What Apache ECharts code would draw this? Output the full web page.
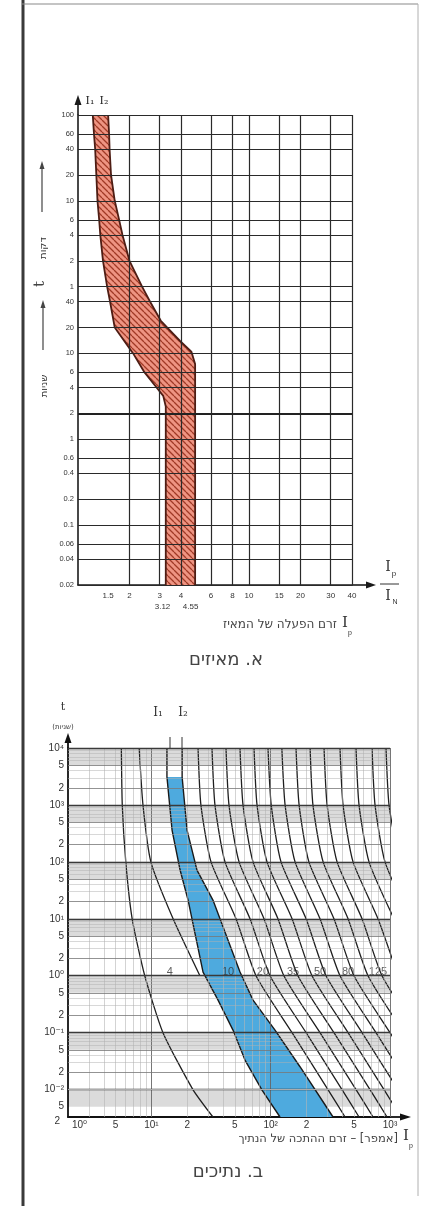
<!DOCTYPE html>
<html>
<head>
<meta charset="utf-8">
<script src="https://cdn.jsdelivr.net/npm/echarts@6/dist/echarts.min.js"></script>
<style>
  html, body { margin: 0; padding: 0; background: #fff; }
  #chart { width: 422px; height: 1206px; }
</style>
</head>
<body>
<div id="chart"></div>
<script>
// 上图：מאיזים（断路器）I/In - t
const breakerXTicks = [1.5, 2, 3, 4, 6, 8, 10, 15, 20, 30, 40];
const breakerXMarks = [3.12, 4.55];
const breakerXGrid = [2, 3, 4, 6, 8, 10, 15, 20, 30, 40];
const breakerYValues = [6000, 3600, 2400, 1200, 600, 360, 240, 120, 60, 40, 20, 10, 6, 4, 2, 1, 0.6, 0.4, 0.2, 0.1, 0.06, 0.04, 0.02];
const breakerYLabels = ['100', '60', '40', '20', '10', '6', '4', '2', '1', '40', '20', '10', '6', '4', '2', '1', '0.6', '0.4', '0.2', '0.1', '0.06', '0.04', '0.02'];
const breakerI1 = [[1.22, 6000], [1.24, 3600], [1.26, 2400], [1.28, 1200], [1.30, 600], [1.33, 360], [1.35, 240], [1.40, 120], [1.48, 60], [1.54, 40], [1.64, 20], [2.1, 10], [2.45, 6], [2.88, 4], [3.15, 3.2], [3.26, 2.4], [3.26, 0.02]];
const breakerI2 = [[1.50, 6000], [1.52, 3600], [1.53, 2400], [1.56, 1200], [1.64, 600], [1.74, 360], [1.82, 240], [2.0, 120], [2.37, 60], [2.64, 40], [3.05, 24], [3.95, 14], [4.6, 10.5], [4.84, 7.5], [4.84, 0.02]];

// 下图：נתיכים（熔断器）I - t
const fuseXValues = [2.5, 5, 10, 20, 50, 100, 200, 500, 1000];
const fuseXLabels = ['10⁰', '5', '10¹', '2', '5', '10²', '2', '5', '10³'];
const fuseXGrid = [3, 4, 5, 6, 7, 8, 9, 10, 20, 30, 40, 50, 60, 70, 80, 90, 100, 200, 300, 400, 500, 600, 700, 800, 900, 1000];
const fuseYValues = [10000, 5000, 2000, 1000, 500, 200, 100, 50, 20, 10, 5, 2, 1, 0.5, 0.2, 0.1, 0.05, 0.02, 0.01, 0.005];
const fuseYLabels = ['10⁴', '5', '2', '10³', '5', '2', '10²', '5', '2', '10¹', '5', '2', '10⁰', '5', '2', '10⁻¹', '5', '2', '10⁻²', '5'];
const fuseYCorner = [0.0034];
const fuseYCornerLabel = ['2'];
const fuseShadeBands = [[5000, 10000], [500, 1000], [50, 100], [5, 10], [0.5, 1], [0.05, 0.1], [0.005, 0.01]];
const fuseI1 = [[13.5, 10000], [13.5, 3090], [14.9, 362], [17.4, 71.8], [20.3, 21.3], [27.1, 1.16], [36.2, 0.373], [48.3, 0.111], [60.9, 0.033], [84.6, 0.0098], [119.7, 0.0033]];
const fuseI2 = [[18.1, 10000], [18.1, 3090], [19.9, 362], [24.1, 71.8], [32.8, 21.3], [55.3, 1.16], [71.1, 0.373], [108.7, 0.111], [176, 0.0252], [333, 0.0033]];
const fuseCurves = [
  [[5.6, 10000], [5.7, 1000], [6.1, 100], [6.9, 10], [8.8, 1], [12.5, 0.1], [22.3, 0.01], [32.8, 0.0033]],
  [[7.9, 10000], [8.5, 1000], [9.9, 100], [15.2, 10], [25.5, 1]],
  [[24.6, 10000], [26, 1000], [31.6, 100], [51.2, 10], [75.3, 1], [151, 0.1], [302, 0.01], [420, 0.0033]],
  [[32.2, 10000], [34.1, 1000], [41.4, 100], [67.1, 10], [98.7, 1], [198, 0.1], [396, 0.01], [550, 0.0033]],
  [[42.2, 10000], [44.7, 1000], [54.3, 100], [87.9, 10], [129, 1], [259, 0.1], [519, 0.01], [721, 0.0033]],
  [[55.3, 10000], [58.6, 1000], [71.1, 100], [115, 10], [169, 1], [339, 0.1], [680, 0.01], [944, 0.0033]],
  [[72.5, 10000], [76.8, 1000], [93.1, 100], [151, 10], [222, 1], [445, 0.1], [891, 0.01], [1237, 0.0033]],
  [[94.9, 10000], [101, 1000], [122, 100], [198, 10], [291, 1], [583, 0.1], [1167, 0.01]],
  [[124, 10000], [132, 1000], [160, 100], [259, 10], [381, 1], [763, 0.1], [1529, 0.01]],
  [[163, 10000], [173, 1000], [209, 100], [339, 10], [499, 1], [1000, 0.1], [2004, 0.01]],
  [[214, 10000], [226, 1000], [275, 100], [445, 10], [654, 1], [1310, 0.1]],
  [[280, 10000], [297, 1000], [360, 100], [583, 10], [857, 1], [1717, 0.1]],
  [[381, 10000], [404, 1000], [490, 100], [793, 10], [1167, 1]],
  [[519, 10000], [550, 1000], [667, 100], [1080, 10]],
  [[707, 10000], [749, 1000], [908, 100], [1471, 10]],
  [[926, 10000], [981, 1000], [1190, 100]]
];
const fuseRatings = ['4', '10', '20', '35', '50', '80', '125'];
const fuseRatingPos = [[14.3, 1.15], [43.9, 1.15], [86, 1.15], [154, 1.15], [259, 1.15], [445, 1.15], [793, 1.15]];

const RLM = '\u200F';
const HEB = "'DejaVu Sans', 'Liberation Sans', sans-serif";
const NUM = "'Liberation Sans', 'DejaVu Sans', sans-serif";

// 按数值查标签
function pick(values, labels) {
  return function (v) {
    const i = values.findIndex(x => Math.abs(x - v) <= x * 1e-6);
    return i < 0 ? '' : labels[i];
  };
}

// 斜线填充图案
function hatch(bg, fg, size) {
  const c = document.createElement('canvas');
  c.width = size;
  c.height = size;
  const ctx = c.getContext('2d');
  ctx.fillStyle = bg;
  ctx.fillRect(0, 0, size, size);
  ctx.strokeStyle = fg;
  ctx.lineWidth = 1.3;
  ctx.beginPath();
  [-size, 0, size].forEach(k => {
    ctx.moveTo(k, 0);
    ctx.lineTo(k + size, size);
  });
  ctx.stroke();
  return c;
}

function bandItem(edgeA, edgeB, fill, stroke) {
  return function (params, api) {
    const pts = edgeA.concat(edgeB.slice().reverse()).map(p => api.coord(p));
    return {
      type: 'polygon',
      shape: { points: pts },
      style: { fill: fill, stroke: stroke, lineWidth: 0 }
    };
  };
}

const breakerLabelVals = breakerXTicks.concat(breakerXMarks);
const breakerLabelTexts = breakerXTicks.map(String).concat(breakerXMarks.map(v => '\n' + v));

const fuseYLines = [];
fuseYValues.forEach(v => {
  const m = Math.round(v / Math.pow(10, Math.floor(Math.log10(v) + 1e-9)));
  fuseYLines.push({
    yAxis: v,
    lineStyle: m === 1 ? { color: '#3a3a3a', width: 1.3 } : { color: '#777', width: 0.8 }
  });
});
[-3, -2, -1, 0, 1, 2, 3].forEach(e => {
  [3, 4, 6, 7, 8, 9].forEach(m => {
    const v = m * Math.pow(10, e);
    if (v > 0.0034 && v < 10000) fuseYLines.push({ yAxis: v, lineStyle: { color: '#b0b0b0', width: 0.5 } });
  });
});
const fuseXLines = fuseXGrid.map(v => ({
  xAxis: v,
  lineStyle: [10, 100, 1000].indexOf(v) >= 0 ? { color: '#666', width: 0.9 } : { color: '#b5b5b5', width: 0.6 }
}));

const chart = echarts.init(document.getElementById('chart'), null, { renderer: 'canvas' });

const option = {
  backgroundColor: '#ffffff',
  animation: false,
  textStyle: { fontFamily: NUM },
  grid: [
    { left: 78, top: 115, width: 274, height: 470, outerBoundsMode: 'none' },
    { left: 68, top: 748, width: 322, height: 369, outerBoundsMode: 'none' }
  ],
  xAxis: [
    {
      gridIndex: 0, type: 'log', logBase: 10, min: 1, max: 40,
      axisLine: { show: true, onZero: false, lineStyle: { color: '#1a1a1a', width: 1.6 } },
      axisTick: { show: false },
      splitLine: { show: false },
      axisLabel: {
        customValues: breakerLabelVals,
        formatter: pick(breakerLabelVals, breakerLabelTexts),
        showMinLabel: true, showMaxLabel: true,
        fontSize: 8, color: '#333', margin: 5, lineHeight: 11
      }
    },
    {
      gridIndex: 1, type: 'log', logBase: 10, min: 2, max: 1000,
      axisLine: { show: true, onZero: false, lineStyle: { color: '#111', width: 1.8 } },
      axisTick: { show: false },
      splitLine: { show: false },
      axisLabel: {
        customValues: fuseXValues,
        formatter: pick(fuseXValues, fuseXLabels),
        showMinLabel: true, showMaxLabel: true,
        fontSize: 10, color: '#333', margin: 3
      }
    }
  ],
  yAxis: [
    {
      gridIndex: 0, type: 'log', logBase: 10, min: 0.02, max: 6000,
      axisLine: { show: true, onZero: false, lineStyle: { color: '#1a1a1a', width: 1.6 } },
      axisTick: { show: false },
      splitLine: { show: false },
      axisLabel: {
        customValues: breakerYValues,
        formatter: pick(breakerYValues, breakerYLabels),
        showMinLabel: true, showMaxLabel: true,
        fontSize: 7.5, color: '#333', margin: 4
      }
    },
    {
      gridIndex: 1, type: 'log', logBase: 10, min: 0.0033, max: 10000,
      axisLine: { show: true, onZero: false, lineStyle: { color: '#111', width: 1.8 } },
      axisTick: { show: false },
      splitLine: { show: false },
      axisLabel: {
        customValues: fuseYValues,
        formatter: pick(fuseYValues, fuseYLabels),
        showMinLabel: true, showMaxLabel: true,
        fontSize: 10, color: '#333', margin: 4
      }
    },
    // 左下角的 "2"
    {
      gridIndex: 1, type: 'log', logBase: 10, min: 0.0033, max: 10000, position: 'left', offset: 0,
      axisLine: { show: false },
      axisTick: { show: false },
      splitLine: { show: false },
      axisLabel: {
        customValues: fuseYCorner,
        formatter: pick(fuseYCorner, fuseYCornerLabel),
        showMinLabel: true,
        verticalAlign: 'top',
        fontSize: 10, color: '#333', margin: 8
      }
    }
  ],
  series: [
    // 上图网格
    {
      type: 'line', xAxisIndex: 0, yAxisIndex: 0, data: [], silent: true, z: 1,
      markLine: {
        silent: true, symbol: 'none', animation: false,
        label: { show: false },
        lineStyle: { color: '#2a2a2a', width: 1.2, type: 'solid' },
        data: breakerXGrid.map(v => ({ xAxis: v })).concat(
          breakerYValues.map(v => (v === 2 ? { yAxis: v, lineStyle: { width: 2.2, color: '#222', type: 'solid' } } : { yAxis: v })))
      }
    },
    // 上图阴影带
    {
      type: 'custom', xAxisIndex: 0, yAxisIndex: 0, data: [breakerI1[0]], z: 2, silent: true,
      renderItem: bandItem(breakerI1, breakerI2, { image: hatch('#ee9482', '#a03a26', 6), repeat: 'repeat' }, 'none')
    },
    {
      type: 'line', xAxisIndex: 0, yAxisIndex: 0, data: breakerI1, symbol: 'none', silent: true, z: 3,
      lineStyle: { color: '#4e1d14', width: 1.8 }
    },
    {
      type: 'line', xAxisIndex: 0, yAxisIndex: 0, data: breakerI2, symbol: 'none', silent: true, z: 3,
      lineStyle: { color: '#4e1d14', width: 1.8 }
    },
    // 下图网格与灰色条
    {
      type: 'line', xAxisIndex: 1, yAxisIndex: 1, data: [], silent: true, z: 1,
      markArea: {
        silent: true,
        itemStyle: { color: 'rgba(0,0,0,0.14)' },
        data: fuseShadeBands.map(b => [{ yAxis: b[0] }, { yAxis: b[1] }])
      },
      markLine: {
        silent: true, symbol: 'none', animation: false,
        label: { show: false },
        lineStyle: { type: 'solid' },
        data: fuseXLines.concat(fuseYLines)
      }
    },
    // 下图 10A 带
    {
      type: 'custom', xAxisIndex: 1, yAxisIndex: 1, data: [fuseI1[1]], z: 2, silent: true,
      renderItem: bandItem(fuseI1.slice(1), fuseI2.slice(1), '#4eaade', 'none')
    },
    {
      type: 'line', xAxisIndex: 1, yAxisIndex: 1, data: fuseI1, symbol: 'none', silent: true, z: 3,
      lineStyle: { color: '#1a1a1a', width: 1.4 }
    },
    {
      type: 'line', xAxisIndex: 1, yAxisIndex: 1, data: fuseI2, symbol: 'none', silent: true, z: 3,
      lineStyle: { color: '#1a1a1a', width: 1.4 }
    }
  ].concat(fuseCurves.map(c => ({
    type: 'line', xAxisIndex: 1, yAxisIndex: 1, data: c, symbol: 'none', silent: true, z: 3,
    smooth: 0.2,
    lineStyle: { color: '#1f1f1f', width: 1.3 }
  }))).concat([
    {
      type: 'scatter', xAxisIndex: 1, yAxisIndex: 1, z: 4, silent: true,
      symbolSize: 1, itemStyle: { color: 'rgba(0,0,0,0)' },
      data: fuseRatings.map((r, i) => ({ name: r, value: fuseRatingPos[i] })),
      label: { show: true, position: 'inside', formatter: '{b}', fontSize: 11, color: '#333' }
    }
  ]),
  graphic: [
    // 外框
    { type: 'line', shape: { x1: 23, y1: 0, x2: 23, y2: 1206 }, style: { stroke: '#3a3a3a', lineWidth: 3 } },
    { type: 'line', shape: { x1: 22, y1: 4, x2: 418, y2: 4 }, style: { stroke: '#8a8a8a', lineWidth: 1.2 } },
    { type: 'line', shape: { x1: 418, y1: 4, x2: 418, y2: 1196 }, style: { stroke: '#b0b0b0', lineWidth: 1 } },

    // 上图坐标箭头
    { type: 'line', shape: { x1: 78, y1: 115, x2: 78, y2: 102 }, style: { stroke: '#1a1a1a', lineWidth: 1.6 } },
    { type: 'polygon', shape: { points: [[78, 95], [74.5, 105], [81.5, 105]] }, style: { fill: '#1a1a1a' } },
    { type: 'line', shape: { x1: 352, y1: 585, x2: 368, y2: 585 }, style: { stroke: '#1a1a1a', lineWidth: 1.6 } },
    { type: 'polygon', shape: { points: [[376, 585], [366, 581.5], [366, 588.5]] }, style: { fill: '#1a1a1a' } },
    { type: 'text', x: 90, y: 101, style: { text: 'I₁', fontSize: 11, fontFamily: 'DejaVu Serif', fill: '#222', align: 'center', verticalAlign: 'middle' } },
    { type: 'text', x: 104, y: 101, style: { text: 'I₂', fontSize: 11, fontFamily: 'DejaVu Serif', fill: '#222', align: 'center', verticalAlign: 'middle' } },

    // 上图纵轴标题
    { type: 'line', shape: { x1: 42, y1: 212, x2: 42, y2: 168 }, style: { stroke: '#444', lineWidth: 1.2 } },
    { type: 'polygon', shape: { points: [[42, 161], [39.5, 169], [44.5, 169]] }, style: { fill: '#444' } },
    { type: 'text', x: 43, y: 248, rotation: Math.PI / 2, style: { text: RLM + 'דקות' + RLM, fontSize: 10, fontFamily: HEB, fill: '#333', align: 'center', verticalAlign: 'middle' } },
    { type: 'text', x: 40, y: 284, rotation: Math.PI / 2, style: { text: 't', fontSize: 15, fontFamily: 'DejaVu Serif', fill: '#444', align: 'center', verticalAlign: 'middle' } },
    { type: 'line', shape: { x1: 43, y1: 350, x2: 43, y2: 307 }, style: { stroke: '#444', lineWidth: 1.2 } },
    { type: 'polygon', shape: { points: [[43, 300], [40.5, 308], [45.5, 308]] }, style: { fill: '#444' } },
    { type: 'text', x: 44, y: 386, rotation: Math.PI / 2, style: { text: RLM + 'שניות' + RLM, fontSize: 10, fontFamily: HEB, fill: '#333', align: 'center', verticalAlign: 'middle' } },

    // 上图横轴标题
    { type: 'text', x: 388, y: 567, style: { text: 'I', fontSize: 14, fontFamily: 'DejaVu Serif', fill: '#333', align: 'center', verticalAlign: 'middle' } },
    { type: 'text', x: 394, y: 574, style: { text: 'p', fontSize: 8, fontFamily: NUM, fill: '#333', align: 'center', verticalAlign: 'middle' } },
    { type: 'line', shape: { x1: 380, y1: 584, x2: 399, y2: 584 }, style: { stroke: '#333', lineWidth: 1 } },
    { type: 'text', x: 388, y: 596, style: { text: 'I', fontSize: 14, fontFamily: 'DejaVu Serif', fill: '#333', align: 'center', verticalAlign: 'middle' } },
    { type: 'text', x: 395, y: 602, style: { text: 'N', fontSize: 7, fontFamily: NUM, fill: '#333', align: 'center', verticalAlign: 'middle' } },
    { type: 'text', x: 337, y: 625, style: { text: RLM + 'זרם הפעלה של המאיז' + RLM, fontSize: 12, fontFamily: HEB, fill: '#444', align: 'right', verticalAlign: 'middle' } },
    { type: 'text', x: 345, y: 623, style: { text: 'I', fontSize: 15, fontFamily: 'DejaVu Serif', fill: '#333', align: 'center', verticalAlign: 'middle' } },
    { type: 'text', x: 350, y: 633, style: { text: 'p', fontSize: 7, fontFamily: NUM, fill: '#333', align: 'center', verticalAlign: 'middle' } },
    { type: 'text', x: 226, y: 660, style: { text: RLM + 'א. מאיזים' + RLM, fontSize: 18, fontFamily: HEB, fill: '#444', align: 'center', verticalAlign: 'middle' } },

    // 下图坐标箭头
    { type: 'line', shape: { x1: 68, y1: 748, x2: 68, y2: 740 }, style: { stroke: '#111', lineWidth: 1.8 } },
    { type: 'polygon', shape: { points: [[68, 733], [64.5, 743], [71.5, 743]] }, style: { fill: '#111' } },
    { type: 'line', shape: { x1: 390, y1: 1117, x2: 402, y2: 1117 }, style: { stroke: '#111', lineWidth: 1.8 } },
    { type: 'polygon', shape: { points: [[411, 1117], [400, 1113.5], [400, 1120.5]] }, style: { fill: '#111' } },
    { type: 'text', x: 63, y: 707, style: { text: 't', fontSize: 11, fontFamily: 'DejaVu Serif', fill: '#333', align: 'center', verticalAlign: 'middle' } },
    { type: 'text', x: 63, y: 727, style: { text: RLM + '(שניות)' + RLM, fontSize: 7, fontFamily: HEB, fill: '#333', align: 'center', verticalAlign: 'middle' } },
    { type: 'text', x: 158, y: 713, style: { text: 'I₁', fontSize: 12, fontFamily: 'DejaVu Serif', fill: '#333', align: 'center', verticalAlign: 'middle' } },
    { type: 'text', x: 183, y: 713, style: { text: 'I₂', fontSize: 12, fontFamily: 'DejaVu Serif', fill: '#333', align: 'center', verticalAlign: 'middle' } },
    { type: 'line', shape: { x1: 170, y1: 737, x2: 170, y2: 748 }, style: { stroke: '#333', lineWidth: 1 } },
    { type: 'line', shape: { x1: 182, y1: 737, x2: 182, y2: 748 }, style: { stroke: '#333', lineWidth: 1 } },

    // 下图横轴标题
    { type: 'text', x: 398, y: 1139, style: { text: RLM + '[אמפר] – זרם ההתכה של הנתיך' + RLM, fontSize: 11.5, fontFamily: HEB, fill: '#444', align: 'right', verticalAlign: 'middle' } },
    { type: 'text', x: 406, y: 1136, style: { text: 'I', fontSize: 15, fontFamily: 'DejaVu Serif', fill: '#333', align: 'center', verticalAlign: 'middle' } },
    { type: 'text', x: 411, y: 1146, style: { text: 'p', fontSize: 7, fontFamily: NUM, fill: '#333', align: 'center', verticalAlign: 'middle' } },
    { type: 'text', x: 228, y: 1172, style: { text: RLM + 'ב. נתיכים' + RLM, fontSize: 18, fontFamily: HEB, fill: '#444', align: 'center', verticalAlign: 'middle' } }
  ]
};

chart.setOption(option);
</script>
</body>
</html>
